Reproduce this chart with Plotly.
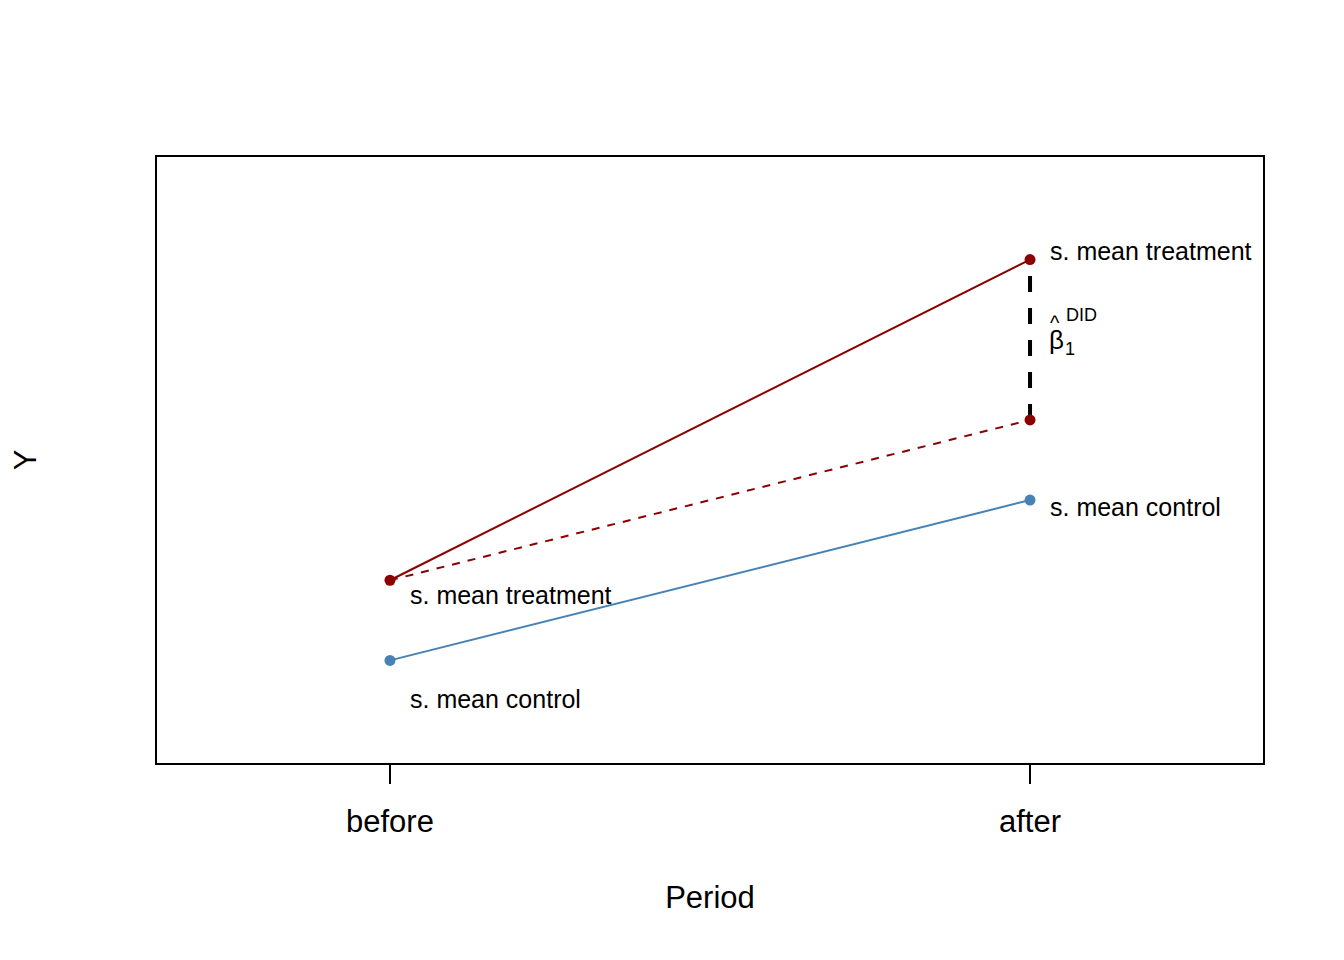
import plotly.graph_objects as go

# Data
period_labels = ["before", "after"]
period_pos = [0, 1]
control_means = [6, 8]
treatment_means = [7, 11]
counterfactual = [7, 9]
did_segment = [9, 11]

# Annotation labels: (x, y, text)
label_x = [0, 0, 1, 1]
label_y = [5.5, 6.8, 7.9, 11.1]
label_text = ["s. mean control", "s. mean treatment", "s. mean control", "s. mean treatment"]
beta_pos = (1, 10)

RED = "#8B0000"
BLUE = "#4682B4"
FONT = "Liberation Sans, Arial, sans-serif"

fig = go.Figure()

fig.add_trace(go.Scatter(x=period_pos, y=treatment_means, mode="lines",
                         line=dict(color=RED, width=2), showlegend=False, hoverinfo="skip"))
fig.add_trace(go.Scatter(x=period_pos, y=control_means, mode="lines",
                         line=dict(color=BLUE, width=2), showlegend=False, hoverinfo="skip"))
fig.add_trace(go.Scatter(x=period_pos, y=counterfactual, mode="lines",
                         line=dict(color=RED, width=2, dash="8px,8px"), showlegend=False, hoverinfo="skip"))
fig.add_trace(go.Scatter(x=[period_pos[1], period_pos[1]], y=did_segment, mode="lines",
                         line=dict(color="black", width=4, dash="16px,16px"), showlegend=False, hoverinfo="skip"))
fig.add_trace(go.Scatter(x=period_pos, y=control_means, mode="markers",
                         marker=dict(color=BLUE, size=11), showlegend=False, hoverinfo="skip"))
fig.add_trace(go.Scatter(x=[period_pos[0], period_pos[1], period_pos[1]],
                         y=[treatment_means[0], treatment_means[1], counterfactual[1]], mode="markers",
                         marker=dict(color=RED, size=11), showlegend=False, hoverinfo="skip"))

for x, y, t in zip(label_x, label_y, label_text):
    fig.add_annotation(x=x, y=y, xref="x", yref="y", text=t, showarrow=False,
                       xanchor="left", yanchor="middle", xshift=18, yshift=1,
                       font=dict(family=FONT, size=25, color="black"))

bx, by = beta_pos
fig.add_annotation(x=bx, y=by, text="β", showarrow=False, xanchor="left", yanchor="middle",
                   xshift=17, yshift=0, font=dict(family=FONT, size=26, color="black"))
fig.add_annotation(x=bx, y=by, text="^", showarrow=False, xanchor="left", yanchor="middle",
                   xshift=19, yshift=17, font=dict(family=FONT, size=20, color="black"), borderpad=0)
fig.add_annotation(x=bx, y=by, text="1", showarrow=False, xanchor="left", yanchor="middle",
                   xshift=33, yshift=-9, font=dict(family=FONT, size=18, color="black"))
fig.add_annotation(x=bx, y=by, text="DID", showarrow=False, xanchor="left", yanchor="middle",
                   xshift=34, yshift=25, font=dict(family=FONT, size=18, color="black"))

fig.update_layout(
    width=1344, height=960,
    margin=dict(l=149, r=89, t=149, b=205),
    paper_bgcolor="white", plot_bgcolor="white",
    font=dict(family=FONT, color="black"),
    xaxis=dict(range=[-0.364, 1.364], tickvals=period_pos, ticktext=period_labels,
               showgrid=False, zeroline=False, showline=True, linecolor="black", linewidth=2,
               mirror=True, ticks="outside", ticklen=19, tickwidth=2, tickcolor="black",
               tickfont=dict(size=31, family=FONT), ticklabelstandoff=11,
               title=dict(text="Period", font=dict(size=31, family=FONT), standoff=48)),
    yaxis=dict(range=[4.72, 12.28], showticklabels=False, ticks="",
               showgrid=False, zeroline=False, showline=True, linecolor="black", linewidth=2,
               mirror=True,
               title=dict(text="Y", font=dict(size=31, family=FONT), standoff=113)),
)

fig.write_html("out.html")
